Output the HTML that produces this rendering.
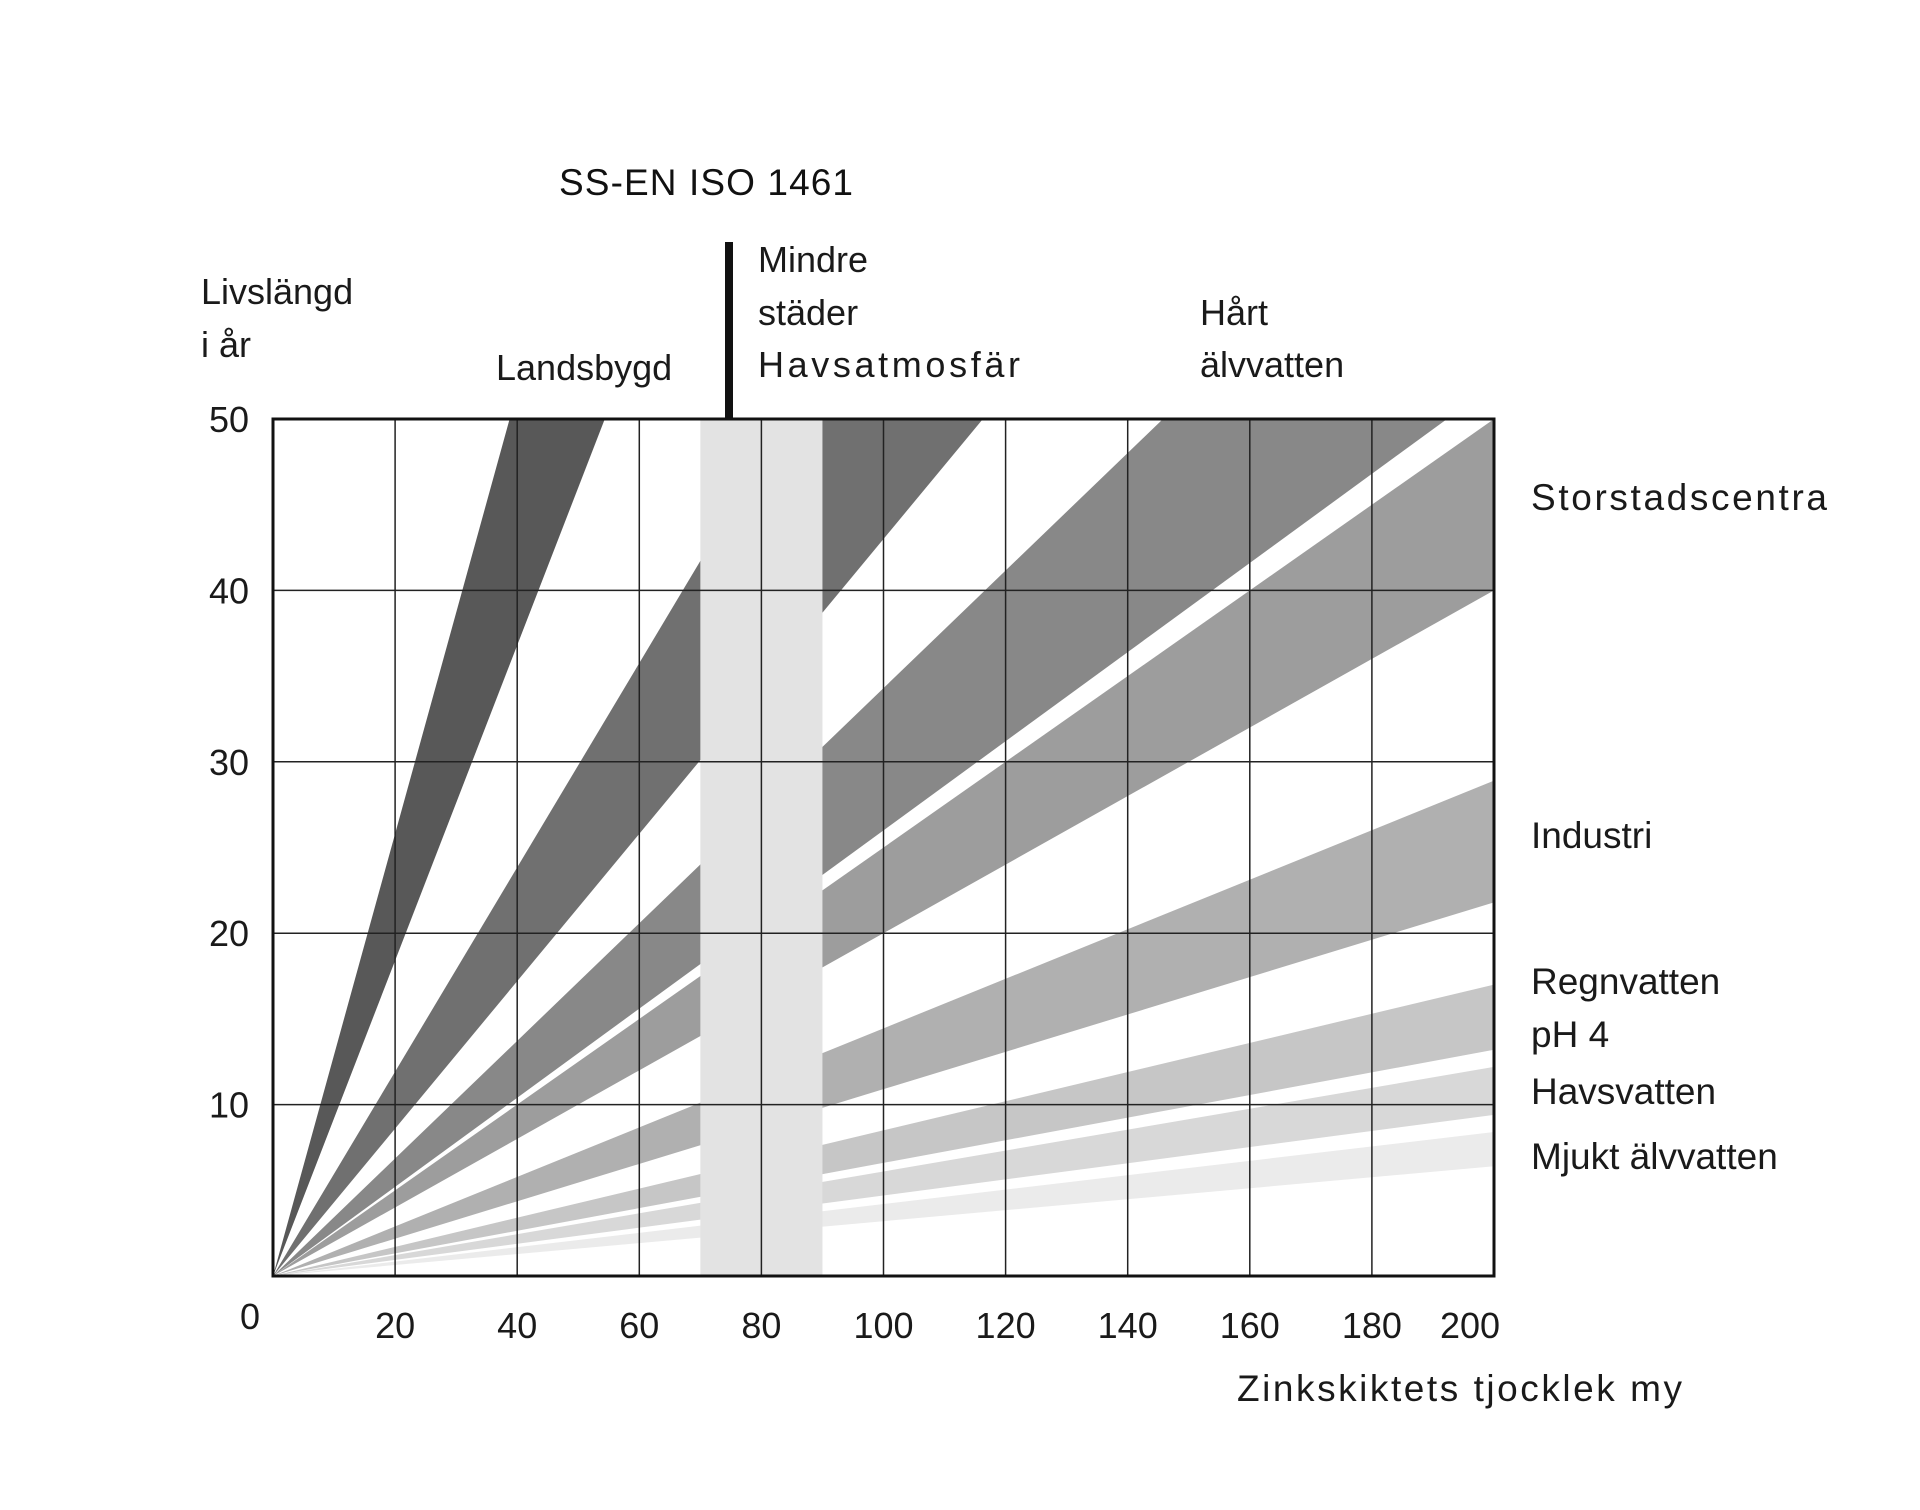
<!DOCTYPE html>
<html><head><meta charset="utf-8"><style>
html,body{margin:0;padding:0;background:#fff;}
svg{display:block;}
text{font-family:"Liberation Sans",sans-serif;fill:#1a1a1a;}
</style></head><body>
<svg id="chart" width="1920" height="1510" viewBox="0 0 1920 1510" xmlns="http://www.w3.org/2000/svg">
<defs><clipPath id="plotclip"><rect x="273" y="419" width="1221" height="857"/></clipPath></defs>
<g id="bands" clip-path="url(#plotclip)"></g>
<g id="grid"></g>
<rect x="273" y="419" width="1221" height="857" fill="none" stroke="#111" stroke-width="3"/>
<rect x="725" y="242" width="8" height="177" fill="#111"/>
<text x="559" y="195" font-size="37" textLength="294" style="fill:#111">SS-EN ISO 1461</text>
<text x="201" y="304" font-size="36">Livslängd</text>
<text x="201" y="357" font-size="36">i år</text>
<text x="496" y="380" font-size="36">Landsbygd</text>
<text x="758" y="272" font-size="36">Mindre</text>
<text x="758" y="325" font-size="36">städer</text>
<text x="758" y="377" font-size="36" textLength="262">Havsatmosfär</text>
<text x="1200" y="325" font-size="36">Hårt</text>
<text x="1200" y="377" font-size="36">älvvatten</text>
<text x="1531" y="510" font-size="37" textLength="296">Storstadscentra</text>
<text x="1531" y="848" font-size="37">Industri</text>
<text x="1531" y="994" font-size="37">Regnvatten</text>
<text x="1531" y="1047" font-size="37">pH 4</text>
<text x="1531" y="1104" font-size="37">Havsvatten</text>
<text x="1531" y="1169" font-size="37">Mjukt älvvatten</text>
<text x="1237" y="1401" font-size="37" textLength="445">Zinkskiktets tjocklek my</text>
<g id="ticks"></g>
</svg>
<script>
// Data: lifetime (years) at 100 µm zinc thickness, upper and lower band edges
const bandNames = ["landsbygd","mindre-stader","havsatmosfar","hart-alvvatten","storstadscentra","industri","regnvatten","havsvatten","mjukt-alvvatten"].slice(0,8);
const upperAt100 = [129, 59.6, 34.3, 25, 14.45, 8.5, 6.1, 4.2];
const lowerAt100 = [92, 43, 26, 20, 10.9, 6.6, 4.7, 3.2];
const bandColors = ["#585858","#707070","#888888","#9d9d9d","#b0b0b0","#c6c6c6","#d8d8d8","#ebebeb"];
const xTicks = [20,40,60,80,100,120,140,160,180,200];
const yTicks = [10,20,30,40,50];
const columnRange = [70, 90];

const X0 = 273, X1 = 1494, Y0 = 1276, Y1 = 419;
function xs(v){ return X0 + v / 200 * (X1 - X0); }
function ys(v){ return Y0 - v / 50 * (Y0 - Y1); }
const NS = "http://www.w3.org/2000/svg";
const bands = document.getElementById("bands");
for (let i = 0; i < upperAt100.length; i++) {
  const p = document.createElementNS(NS, "polygon");
  const pts = [[0,0],[200, upperAt100[i]*2],[200, lowerAt100[i]*2]];
  p.setAttribute("points", pts.map(q => xs(q[0]) + "," + ys(q[1])).join(" "));
  p.setAttribute("fill", bandColors[i]);
  
  
  bands.appendChild(p);
}
const col = document.createElementNS(NS, "rect");
col.setAttribute("x", xs(columnRange[0]));
col.setAttribute("y", Y1);
col.setAttribute("width", xs(columnRange[1]) - xs(columnRange[0]));
col.setAttribute("height", Y0 - Y1);
col.setAttribute("fill", "#e3e3e3");


bands.appendChild(col);

const grid = document.getElementById("grid");
const ticks = document.getElementById("ticks");
xTicks.forEach(t => {
  if (t < 200) {
    const l = document.createElementNS(NS, "line");
    l.setAttribute("x1", xs(t)); l.setAttribute("x2", xs(t));
    l.setAttribute("y1", Y1); l.setAttribute("y2", Y0);
    l.setAttribute("stroke", "#222"); l.setAttribute("stroke-width", "1.5");
    
    
    grid.appendChild(l);
  }
  const tx = document.createElementNS(NS, "text");
  tx.setAttribute("x", t === 200 ? xs(t) - 24 : xs(t));
  tx.setAttribute("y", 1338);
  tx.setAttribute("font-size", "36");
  tx.setAttribute("text-anchor", "middle");
  tx.textContent = t;
  
  
  ticks.appendChild(tx);
});
yTicks.forEach(t => {
  if (t < 50) {
    const l = document.createElementNS(NS, "line");
    l.setAttribute("x1", X0); l.setAttribute("x2", X1);
    l.setAttribute("y1", ys(t)); l.setAttribute("y2", ys(t));
    l.setAttribute("stroke", "#222"); l.setAttribute("stroke-width", "1.5");
    
    
    grid.appendChild(l);
  }
  const tx = document.createElementNS(NS, "text");
  tx.setAttribute("x", 249);
  tx.setAttribute("y", ys(t) + 13);
  tx.setAttribute("font-size", "36");
  tx.setAttribute("text-anchor", "end");
  tx.textContent = t;
  
  
  ticks.appendChild(tx);
});
const zero = document.createElementNS(NS, "text");
zero.setAttribute("x", 250);
zero.setAttribute("y", 1329);
zero.setAttribute("font-size", "36");
zero.setAttribute("text-anchor", "middle");
zero.textContent = "0";


ticks.appendChild(zero);
</script>
</body></html>
